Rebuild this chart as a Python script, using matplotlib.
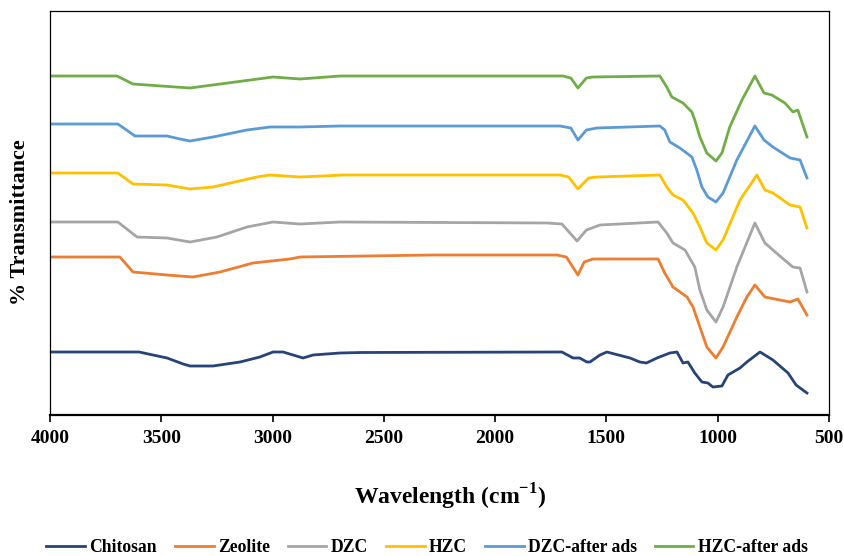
import matplotlib
matplotlib.use("Agg")
import matplotlib.pyplot as plt

# FTIR spectra (transmittance in arbitrary offset units)
chitosan_x = [4000, 3600, 3474, 3402, 3371, 3268, 3146, 3057, 2998, 2953, 2863, 2818, 2697, 2600,
              1700, 1650, 1620, 1588, 1574, 1529, 1498, 1394, 1350, 1320, 1273, 1215, 1183, 1156,
              1134, 1103, 1071, 1044, 1022, 981, 954, 900, 869, 810, 788, 752, 684, 648, 599]
chitosan_y = [63, 63, 57, 51, 49, 49, 53, 58, 63, 63, 57, 60, 62, 62.5,
              63, 57, 57, 53, 53, 60, 63, 57, 53, 52, 57, 62, 63, 52,
              53, 42, 33, 32, 28, 29, 40, 47, 53, 63, 60, 55, 42, 30, 22]

zeolite_x = [4000, 3686, 3627, 3474, 3357, 3236, 3088, 2922, 2877, 2280, 1722, 1680, 1628, 1600,
             1561, 1268, 1238, 1201, 1138, 1111, 1080, 1049, 1008, 976, 914, 869, 833, 788,
             720, 675, 640, 599]
zeolite_y = [158, 158, 143, 140, 138, 143, 152, 156, 158, 160, 160, 158, 140, 153,
             156, 156, 142, 128, 118, 108, 88, 68, 57, 68, 98, 118, 130, 118,
             115, 113, 116, 100]

dzc_x = [4000, 3695, 3609, 3474, 3371, 3250, 3115, 2998, 2877, 2697, 1767, 1700, 1632, 1590,
         1529, 1268, 1229, 1201, 1147, 1103, 1080, 1049, 1008, 976, 914, 833, 788, 752,
         700, 662, 630, 599]
dzc_y = [193, 193, 178, 177, 173, 178, 188, 193, 191, 193, 192, 191, 174, 185,
         190, 193, 182, 172, 165, 148, 125, 105, 93, 108, 148, 192, 172, 165,
         155, 148, 147, 123]

hzc_x = [4000, 3695, 3627, 3474, 3371, 3268, 3070, 3012, 2877, 2684, 1709, 1670, 1628, 1580,
         1543, 1260, 1229, 1201, 1156, 1111, 1080, 1049, 1008, 976, 900, 824, 788, 752,
         675, 630, 599]
hzc_y = [242, 242, 231, 230, 226, 228, 238, 240, 238, 240, 240, 238, 226, 237,
         238, 240, 228, 220, 215, 202, 188, 172, 165, 175, 215, 240, 225, 222,
         210, 208, 187]

dzc_ads_x = [4000, 3695, 3618, 3474, 3416, 3371, 3268, 3115, 3012, 2877, 2697, 1709, 1660, 1628,
             1590, 1543, 1260, 1238, 1215, 1170, 1116, 1094, 1071, 1044, 1008, 976, 914, 833,
             792, 752, 675, 630, 599]
dzc_ads_y = [291, 291, 279, 279, 276, 274, 278, 285, 288, 288, 289, 289, 287, 275,
             285, 287, 289, 285, 273, 267, 258, 245, 228, 218, 213, 222, 255, 289,
             275, 268, 257, 255, 237]

hzc_ads_x = [4000, 3699, 3627, 3500, 3371, 2998, 2877, 2697, 1695, 1660, 1628, 1590, 1561, 1260,
             1229, 1206, 1156, 1116, 1103, 1080, 1049, 1008, 981, 946, 891, 833, 792, 757,
             698, 662, 640, 599]
hzc_ads_y = [339, 339, 331, 329, 327, 338, 336, 339, 339, 337, 327, 337, 338, 339,
             328, 318, 312, 303, 295, 278, 262, 254, 262, 288, 315, 339, 322, 320,
             312, 303, 305, 278]

labels = ["Chitosan", "Zeolite", "DZC", "HZC", "DZC-after ads", "HZC-after ads"]
colors = ["#264478", "#ED7D31", "#A5A5A5", "#FFC000", "#5B9BD5", "#70AD47"]
xs = [chitosan_x, zeolite_x, dzc_x, hzc_x, dzc_ads_x, hzc_ads_x]
ys = [chitosan_y, zeolite_y, dzc_y, hzc_y, dzc_ads_y, hzc_ads_y]

plt.rcParams['font.family'] = ['Liberation Serif', 'DejaVu Serif']
plt.rcParams['font.weight'] = 'bold'
plt.rcParams['mathtext.fontset'] = 'custom'
plt.rcParams['mathtext.rm'] = 'Liberation Serif:bold'
plt.rcParams['mathtext.bf'] = 'Liberation Serif:bold'

fig = plt.figure(figsize=(8.45, 5.56), dpi=100)
ax = fig.add_axes([50 / 845, 141 / 556, 779 / 845, 404 / 556])

for x, y, lab, c in zip(xs, ys, labels, colors):
    ax.plot(x, y, color=c, lw=2.0, label=lab, solid_joinstyle='round')

ax.set_xlim(4000, 500)
ax.set_ylim(0, 404)
ax.set_xticks(range(4000, 499, -500))
ax.set_yticks([])
ax.tick_params(axis='x', direction='out', length=5, width=1.2, labelsize=14, pad=6)
for lbl in ax.get_xticklabels():
    lbl.set_fontweight('bold')

for side in ['top', 'right', 'left']:
    ax.spines[side].set_linewidth(0.9)
ax.spines['bottom'].set_linewidth(1.6)

fig.text(450 / 845, 1 - 497 / 556, r'Wavelength (cm$^{-1}$)', ha='center', va='center',
         fontsize=17, fontweight='bold')
fig.text(20 / 845, 1 - 222 / 556, '% Transmittance', ha='center', va='center',
         rotation=90, fontsize=16, fontweight='bold')

fig.legend(loc='center', bbox_to_anchor=(427 / 845, 1 - 548 / 556), ncol=6, frameon=False,
           handlelength=2.2, handletextpad=0.25, columnspacing=1.0,
           prop={'weight': 'bold', 'size': 12.7})

fig.savefig('out.png', dpi=100)
